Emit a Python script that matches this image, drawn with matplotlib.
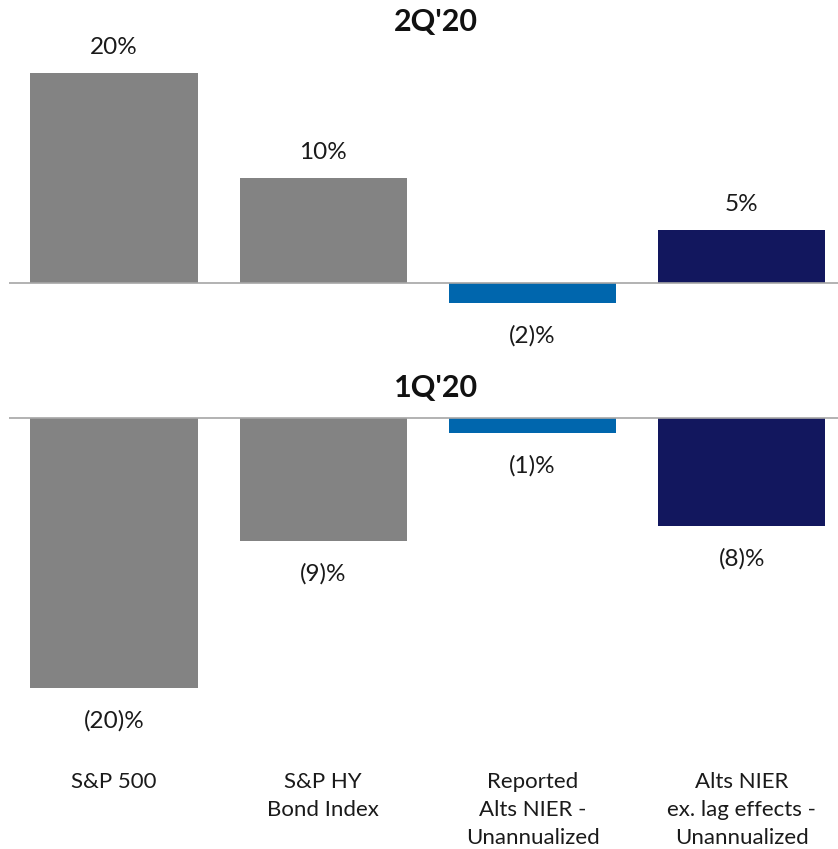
import matplotlib.pyplot as plt

plt.rcParams['font.family'] = ['Lato', 'DejaVu Sans']

categories = ["S&P 500", "S&P HY\nBond Index", "Reported\nAlts NIER -\nUnannualized",
              "Alts NIER\nex. lag effects -\nUnannualized"]
q2_values = [20.0, 10.0, -1.9, 5.0]
q2_labels = ["20%", "10%", "(2)%", "5%"]
q1_values = [-20.0, -9.1, -1.1, -8.0]
q1_labels = ["(20)%", "(9)%", "(1)%", "(8)%"]
colors = ["#838383", "#838383", "#0066ad", "#12175e"]

W, H = 838, 849
fig = plt.figure(figsize=(W / 100, H / 100), dpi=100)


def px_axes(x0, y0, x1, y1):
    # pixel box (top-left origin) -> figure fraction
    return fig.add_axes([x0 / W, 1 - y1 / H, (x1 - x0) / W, (y1 - y0) / H])


def draw(ax, values, labels, title, ylim, title_y):
    x = range(len(values))
    ax.bar(x, values, width=0.80, color=colors, zorder=2)
    ax.axhline(0, color="#a6a6a6", lw=1.2, zorder=3)
    ax.set_xlim(-0.502, 3.46)
    ax.set_ylim(*ylim)
    ax.axis("off")
    for xi, v, lab in zip(x, values, labels):
        off = 18.7 if v >= 0 else -23.8
        ax.annotate(lab, (xi, v), xytext=(0, off), textcoords="offset points",
                    ha="center", va="center", fontsize=17.5, color="#1a1a1a")
    fig.text(436 / W, 1 - title_y / H, title, ha="center", va="center", fontsize=22,
             fontweight="bold", color="#111111")


# top panel: zero at y=283 px, 10.5 px per unit
top = px_axes(9, 50, 838, 340)
draw(top, q2_values, q2_labels, "2Q'20", (-5.43, 22.19), 22)

# bottom panel: zero at y=418 px, 13.5 px per unit
bot = px_axes(9, 400, 838, 700)
draw(bot, q1_values, q1_labels, "1Q'20", (-20.89, 1.333), 388)

for i, cat in enumerate(categories):
    bot.annotate(cat, (i, 0), xycoords=("data", "figure fraction"),
                 xytext=(0, (H - 772) * 0.72), textcoords="offset points",
                 ha="center", va="top", fontsize=16,
                 color="#1a1a1a", linespacing=1.5)

fig.savefig("out.png", dpi=100, facecolor="white")
